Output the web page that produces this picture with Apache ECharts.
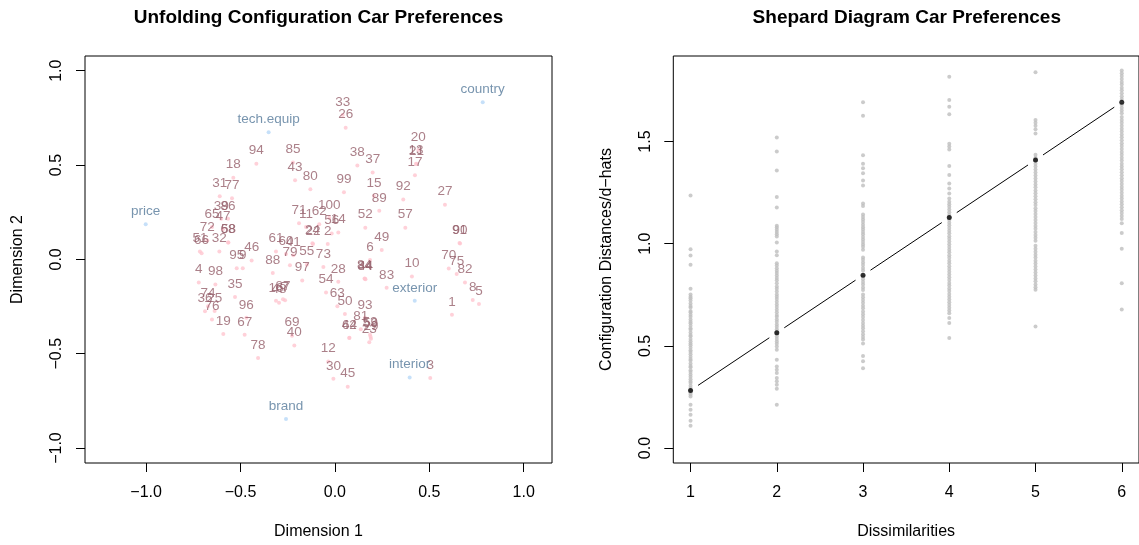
<!DOCTYPE html>
<html>
<head>
    <meta charset="utf-8">
    <title>Unfolding / Shepard - Car Preferences</title>
    <script src="https://cdn.jsdelivr.net/npm/echarts@6.0.0/dist/echarts.min.js"></script>
    <style>body { margin: 0; background: #fff; }</style>
</head>
<body>
    <div id="main" style="width: 1139px;height:545px;"></div>
    <script type="text/javascript">
        // ---- left panel: unfolding configuration (rows = respondents 1..100)
        var rowX = [0.620, -0.038, 0.505, -0.721, 0.763, 0.186, -0.264, 0.730, -0.488, 0.408,
            -0.153, -0.035, 0.430, 0.018, 0.207, -0.312, 0.424, -0.538, -0.591, 0.442,
            0.432, -0.116, 0.182, -0.119, -0.637, 0.057, 0.583, 0.018, 0.191, -0.008,
            -0.610, -0.612, 0.041, 0.159, -0.529, -0.688, 0.200, 0.119, -0.602, -0.215,
            -0.220, 0.076, -0.211, 0.162, 0.068, -0.441, -0.593, -0.296, 0.248, 0.053,
            -0.715, 0.161, 0.186, -0.047, -0.149, -0.017, 0.373, -0.564, 0.189, -0.259,
            -0.312, -0.083, 0.013, 0.077, -0.651, -0.706, -0.478, -0.566, -0.227, 0.603,
            -0.190, -0.676, -0.061, -0.672, 0.645, -0.651, -0.545, -0.407, -0.238, -0.130,
            0.137, 0.689, 0.274, 0.157, -0.222, -0.566, -0.275, -0.329, 0.235, 0.663,
            0.660, 0.362, 0.159, -0.416, -0.520, -0.469, -0.173, -0.633, 0.048, -0.030];
        var rowY = [-0.294, 0.082, -0.629, -0.123, -0.237, -0.004, -0.217, -0.215, -0.047, -0.091,
            0.172, -0.541, 0.507, 0.142, 0.336, -0.220, 0.446, 0.433, -0.395, 0.580,
            0.505, 0.082, -0.439, 0.085, -0.274, 0.698, 0.290, -0.119, -0.421, -0.633,
            0.335, 0.041, 0.765, -0.103, -0.200, -0.275, 0.460, 0.497, 0.215, -0.457,
            0.022, -0.417, 0.419, -0.106, -0.675, -0.006, 0.160, -0.230, 0.049, -0.289,
            0.041, 0.168, -0.400, -0.176, -0.028, 0.137, 0.168, 0.090, -0.410, 0.029,
            0.041, 0.186, -0.248, -0.416, 0.171, 0.033, -0.400, 0.089, -0.405, -0.049,
            0.192, 0.100, -0.040, -0.249, -0.077, -0.319, 0.324, -0.523, -0.031, 0.372,
            -0.370, -0.123, -0.151, -0.101, 0.513, 0.215, -0.212, -0.072, 0.257, 0.084,
            0.087, 0.317, -0.310, 0.507, -0.047, -0.310, -0.112, -0.133, 0.356, 0.220];
        var rowLabels = rowX.map(function (v, i) { return String(i + 1); });

        // columns = car attributes
        var colLabels = ['price', 'country', 'tech.equip', 'brand', 'exterior', 'interior'];
        var colX = [-1.002, 0.783, -0.351, -0.259, 0.423, 0.396];
        var colY = [0.186, 0.833, 0.674, -0.846, -0.220, -0.626];

        var dimTicks = [-1, -0.5, 0, 0.5, 1];

        // ---- right panel: shepard diagram, one array per dissimilarity level
        var dissimLevels = [1, 2, 3, 4, 5, 6];
        var shep1 = [1.236, 0.973, 0.942, 0.897, 0.779, 0.752, 0.741, 0.733, 0.722, 0.708, 0.695, 0.688,
            0.671, 0.664, 0.652, 0.643, 0.629, 0.618, 0.611, 0.598, 0.586, 0.579, 0.566, 0.553, 0.547,
            0.534, 0.522, 0.511, 0.503, 0.491, 0.478, 0.470, 0.459, 0.447, 0.436, 0.428, 0.414, 0.402,
            0.395, 0.381, 0.372, 0.360, 0.349, 0.337, 0.326, 0.318, 0.305, 0.294, 0.283, 0.271, 0.262,
            0.252, 0.212, 0.187, 0.163, 0.134, 0.109];
        var shep2 = [1.520, 1.451, 1.358, 1.229, 1.177, 1.088, 1.079, 1.068, 1.057, 1.046, 1.035, 1.006,
            0.962, 0.943, 0.905, 0.893, 0.880, 0.868, 0.857, 0.845, 0.832, 0.821, 0.807, 0.791, 0.779,
            0.766, 0.752, 0.741, 0.729, 0.716, 0.703, 0.690, 0.677, 0.664, 0.651, 0.642, 0.629, 0.618,
            0.605, 0.594, 0.581, 0.569, 0.557, 0.546, 0.534, 0.521, 0.510, 0.497, 0.481, 0.432, 0.399,
            0.383, 0.367, 0.343, 0.327, 0.310, 0.290, 0.212];
        var shep3 = [1.693, 1.627, 1.433, 1.391, 1.370, 1.345, 1.309, 1.285, 1.197, 1.185, 1.143, 1.131,
            1.119, 1.106, 1.093, 1.081, 1.070, 1.058, 1.046, 1.033, 1.021, 1.009, 0.996, 0.985, 0.970,
            0.933, 0.921, 0.908, 0.896, 0.881, 0.869, 0.839, 0.826, 0.813, 0.800, 0.786, 0.773, 0.751,
            0.738, 0.724, 0.711, 0.697, 0.684, 0.668, 0.655, 0.641, 0.627, 0.612, 0.598, 0.586, 0.571,
            0.557, 0.544, 0.531, 0.512, 0.450, 0.425, 0.390];
        var shep4 = [1.818, 1.704, 1.671, 1.634, 1.490, 1.476, 1.461, 1.381, 1.337, 1.295, 1.270, 1.246,
            1.222, 1.206, 1.193, 1.181, 1.168, 1.154, 1.141, 1.129, 1.116, 1.103, 1.090, 1.077, 1.064,
            1.051, 1.037, 1.024, 1.011, 0.998, 0.984, 0.971, 0.958, 0.944, 0.931, 0.917, 0.904, 0.890,
            0.876, 0.863, 0.849, 0.836, 0.822, 0.808, 0.795, 0.781, 0.768, 0.754, 0.741, 0.727, 0.713,
            0.700, 0.686, 0.673, 0.660, 0.636, 0.612, 0.538];
        var shep5 = [1.839, 1.606, 1.592, 1.577, 1.561, 1.540, 1.436, 1.421, 1.407, 1.392, 1.378, 1.363,
            1.349, 1.334, 1.319, 1.305, 1.290, 1.276, 1.261, 1.247, 1.232, 1.218, 1.203, 1.189, 1.174,
            1.160, 1.145, 1.131, 1.116, 1.102, 1.087, 1.073, 1.058, 1.043, 1.029, 1.014, 0.990, 0.975,
            0.961, 0.946, 0.932, 0.917, 0.903, 0.888, 0.874, 0.859, 0.845, 0.830, 0.816, 0.801, 0.787,
            0.775, 0.595];
        var shep6 = [1.848, 1.834, 1.821, 1.806, 1.792, 1.779, 1.764, 1.751, 1.737, 1.722, 1.709, 1.680,
            1.666, 1.652, 1.639, 1.620, 1.606, 1.592, 1.578, 1.563, 1.549, 1.535, 1.521, 1.506, 1.492,
            1.478, 1.464, 1.449, 1.435, 1.421, 1.407, 1.392, 1.378, 1.364, 1.350, 1.335, 1.321, 1.307,
            1.292, 1.278, 1.264, 1.250, 1.235, 1.221, 1.207, 1.193, 1.178, 1.164, 1.150, 1.136, 1.121,
            1.100, 1.052, 0.976, 0.807, 0.678];
        var fitY = [0.282, 0.564, 0.846, 1.128, 1.410, 1.693];

        var dissimTicks = [1, 2, 3, 4, 5, 6];
        var distTicks = [0, 0.5, 1, 1.5];

        // ---------------------------------------------------------------
        var FONT = 'Liberation Sans';
        var rowPoint = '#FFC5D0', rowText = '#96606B';
        var colPoint = '#B8D8F8', colText = '#55799A';

        function fmt(v) {
            return (v < 0 ? '\u2212' : '') + Math.abs(v).toFixed(1);
        }

        function axisBase(extra) {
            var a = {
                type: 'value',
                splitLine: { show: false },
                axisLine: { show: false, onZero: false },
                axisTick: { show: true, inside: false, length: 9, lineStyle: { color: '#000', width: 1 } },
                axisLabel: { color: '#000', fontSize: 16, fontFamily: FONT },
                nameLocation: 'middle',
                nameTextStyle: { color: '#000', fontSize: 16, fontFamily: FONT }
            };
            for (var k in extra) {
                if (typeof extra[k] === 'object' && a[k] && !Array.isArray(extra[k])) {
                    for (var j in extra[k]) a[k][j] = extra[k][j];
                } else {
                    a[k] = extra[k];
                }
            }
            return a;
        }

        var rowData = rowX.map(function (x, i) {
            return { name: rowLabels[i], value: [x, rowY[i]] };
        });
        var colData = colX.map(function (x, i) {
            return { name: colLabels[i], value: [x, colY[i]] };
        });

        var shepCols = [shep1, shep2, shep3, shep4, shep5, shep6];
        var shepData = [];
        shepCols.forEach(function (col, k) {
            col.forEach(function (v) { shepData.push([dissimLevels[k], v]); });
        });
        var fitData = dissimLevels.map(function (d, i) { return [d, fitY[i]]; });
        var segData = [];
        for (var i = 0; i < fitData.length - 1; i++) {
            segData.push([fitData[i][0], fitData[i][1], fitData[i + 1][0], fitData[i + 1][1]]);
        }

        var myChart = echarts.init(document.getElementById('main'));

        myChart.setOption({
            animation: false,
            backgroundColor: '#fff',
            title: [{
                text: 'Unfolding Configuration Car Preferences',
                left: 318.5, top: 8, padding: 0, textAlign: 'center',
                textStyle: { fontSize: 19, fontWeight: 'bold', fontFamily: FONT, color: '#000' }
            }, {
                text: 'Shepard Diagram Car Preferences',
                left: 906.8, top: 8, padding: 0, textAlign: 'center',
                textStyle: { fontSize: 19, fontWeight: 'bold', fontFamily: FONT, color: '#000' }
            }],
            grid: [{
                left: 85, top: 56, width: 467, height: 407.3,
                show: true, borderColor: '#000', borderWidth: 1, backgroundColor: 'transparent'
            }, {
                left: 673.3, top: 56, width: 467, height: 407.3,
                show: true, borderColor: '#000', borderWidth: 1, backgroundColor: 'transparent'
            }],
            xAxis: [
                axisBase({
                    gridIndex: 0, min: -1.3236, max: 1.1499,
                    axisTick: { customValues: dimTicks },
                    axisLabel: { customValues: dimTicks, margin: 22, formatter: fmt },
                    name: 'Dimension 1', nameGap: 61
                }),
                axisBase({
                    gridIndex: 1, min: 0.8, max: 6.2,
                    axisTick: { customValues: dissimTicks },
                    axisLabel: { customValues: dissimTicks, margin: 22, formatter: function (v) { return String(v); } },
                    name: 'Dissimilarities', nameGap: 61
                })
            ],
            yAxis: [
                axisBase({
                    gridIndex: 0, min: -1.0794, max: 1.0779,
                    axisTick: { customValues: dimTicks },
                    axisLabel: { customValues: dimTicks, margin: 20, rotate: 90, formatter: fmt },
                    name: 'Dimension 2', nameGap: 59
                }),
                axisBase({
                    gridIndex: 1, min: -0.0734, max: 1.919,
                    axisTick: { customValues: distTicks },
                    axisLabel: { customValues: distTicks, margin: 20, rotate: 90, formatter: fmt },
                    name: 'Configuration Distances/d\u2212hats', nameGap: 59
                })
            ],
            series: [{
                type: 'scatter', xAxisIndex: 0, yAxisIndex: 0,
                symbolSize: 4, itemStyle: { color: rowPoint },
                data: rowData,
                label: {
                    show: true, position: 'top', distance: 4, formatter: '{b}',
                    color: rowText, fontSize: 13.5, lineHeight: 14, fontFamily: FONT
                }
            }, {
                type: 'scatter', xAxisIndex: 0, yAxisIndex: 0,
                symbolSize: 4, itemStyle: { color: colPoint },
                data: colData,
                label: {
                    show: true, position: 'top', distance: 4, formatter: '{b}',
                    color: colText, fontSize: 13.5, lineHeight: 14, fontFamily: FONT
                }
            }, {
                type: 'scatter', xAxisIndex: 1, yAxisIndex: 1,
                symbolSize: 4, itemStyle: { color: '#BEBEBE' },
                data: shepData
            }, {
                // type = "b" style line: segments stop short of the points
                type: 'custom', xAxisIndex: 1, yAxisIndex: 1,
                encode: { x: [0, 2], y: [1, 3] },
                data: segData,
                renderItem: function (params, api) {
                    var p1 = api.coord([api.value(0), api.value(1)]);
                    var p2 = api.coord([api.value(2), api.value(3)]);
                    var dx = p2[0] - p1[0], dy = p2[1] - p1[1];
                    var len = Math.sqrt(dx * dx + dy * dy), gap = 9;
                    var ux = dx / len, uy = dy / len;
                    return {
                        type: 'line',
                        shape: {
                            x1: p1[0] + ux * gap, y1: p1[1] + uy * gap,
                            x2: p2[0] - ux * gap, y2: p2[1] - uy * gap
                        },
                        style: { stroke: '#000', lineWidth: 1 }
                    };
                }
            }, {
                type: 'scatter', xAxisIndex: 1, yAxisIndex: 1,
                symbolSize: 5, itemStyle: { color: '#000' },
                data: fitData
            }]
        });
    </script>
</body>
</html>
